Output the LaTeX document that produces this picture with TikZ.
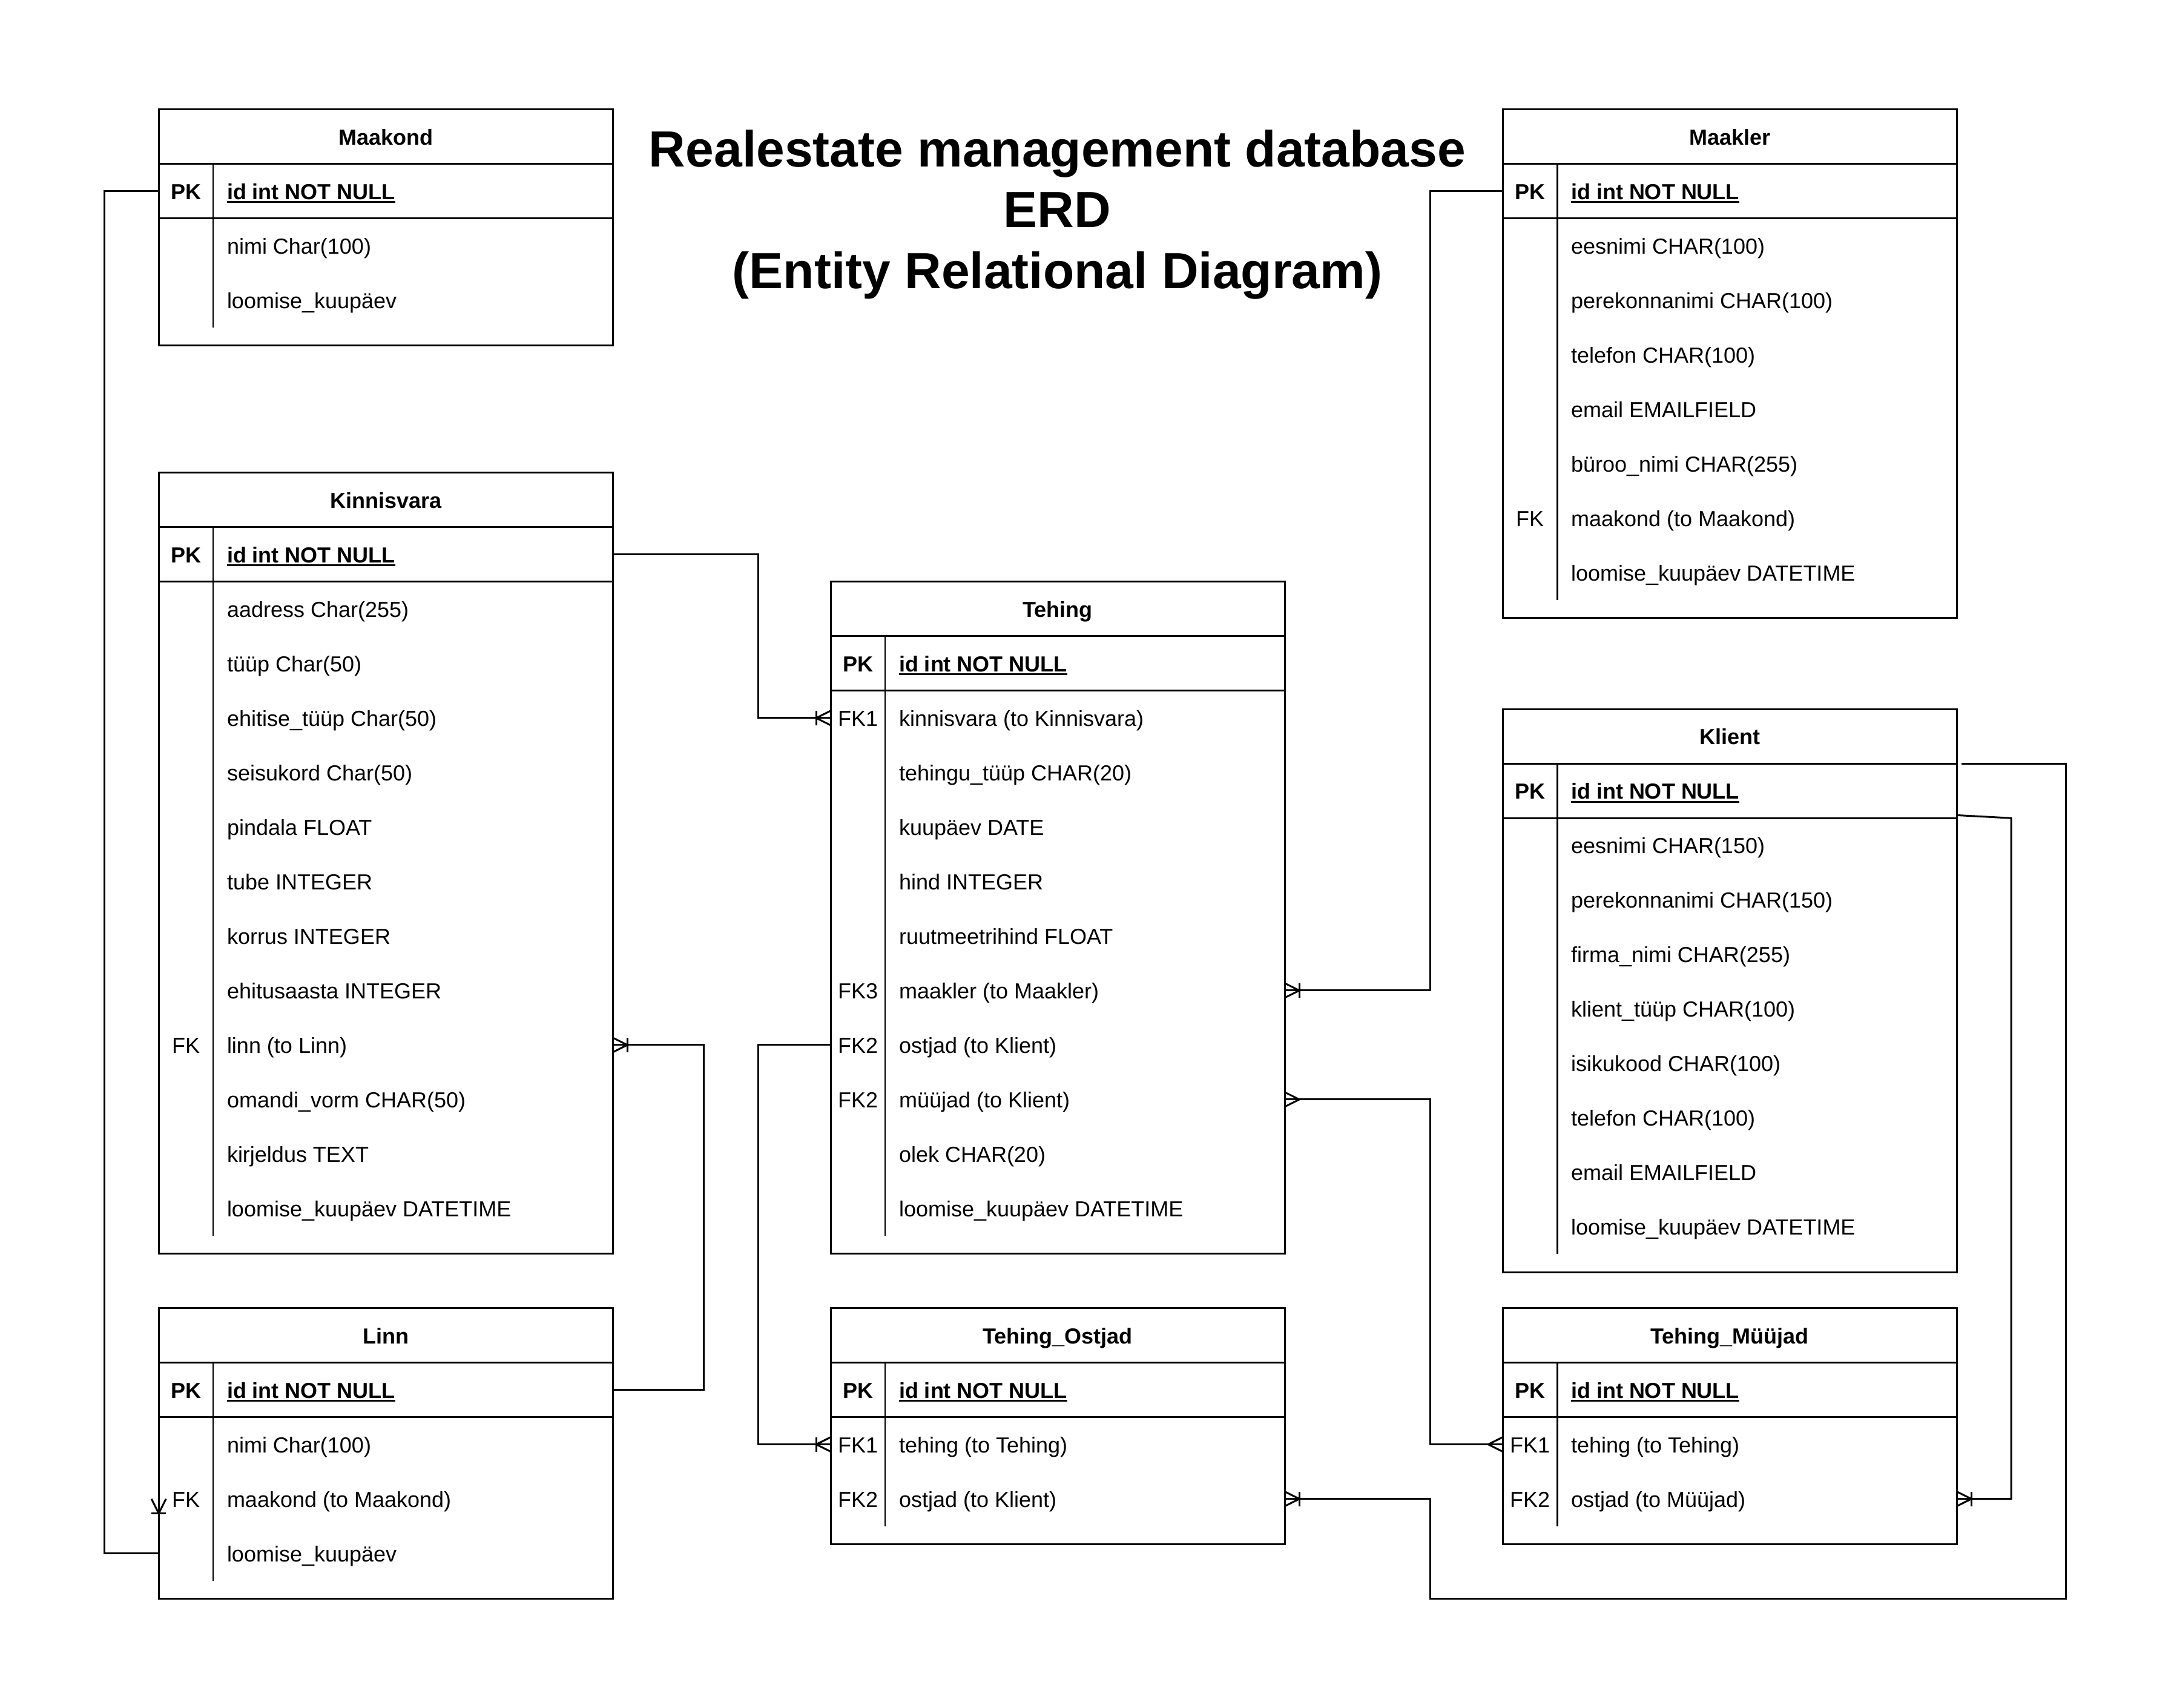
\documentclass[tikz,border=0pt]{standalone}
\usepackage{fontspec}
\setmainfont{Liberation Sans}
\tikzset{
  tbl/.style={draw, rectangle, line width=1pt, minimum width=250pt, inner sep=0pt, outer sep=0pt, anchor=north west},
  rowline/.style={line width=1pt},
  divline/.style={line width=0.85pt},
  hdr/.style={anchor=base, inner sep=0pt, font=\fontsize{12}{14}\selectfont\bfseries},
  keyl/.style={anchor=base, inner sep=0pt, font=\fontsize{12}{14}\selectfont},
  fld/.style={anchor=base west, inner sep=0pt, font=\fontsize{12}{14}\selectfont},
  conn/.style={line width=1pt},
  ttl/.style={anchor=base, inner sep=0pt, font=\fontsize{28}{33.6}\selectfont\bfseries}
}
\newcommand{\pkul}[1]{\setbox0\hbox{#1}\rlap{\rule[-2pt]{\wd0}{1pt}}\box0}
\newcommand{\erdtable}[6]{%
  \pgfmathsetmacro{\tx}{#2}%
  \pgfmathsetmacro{\ty}{#3}%
  \pgfmathsetmacro{\tabh}{70+30*#5}%
  \node[tbl, minimum height=\tabh pt] (#1) at (\tx,\ty) {};
  \draw[rowline] (\tx,\ty+30) -- ++(250,0);
  \draw[rowline] (\tx,\ty+60) -- ++(250,0);
  \draw[divline] (\tx+30,\ty+30) -- (\tx+30,\ty+60+30*#5);
  \node[hdr] (#1-title) at (\tx+125,\ty+19.5) {#4};
  \node[keyl, font=\fontsize{12}{14}\selectfont\bfseries] (#1-k0) at (\tx+15,\ty+49.5) {PK};
  \node[fld] (#1-f0) at (\tx+37.4,\ty+49.5) {\pkul{\bfseries id int NOT NULL}};
  \coordinate (#1-L0) at (\tx,\ty+45);
  \coordinate (#1-R0) at (\tx+250,\ty+45);
  \coordinate (#1-H) at (\tx+250,\ty+30);
  \foreach \kk/\ff [count=\ii] in {#6} {
    \node[keyl] (#1-k\ii) at (\tx+15,\ty+49.5+30*\ii) {\kk};
    \node[fld] (#1-f\ii) at (\tx+37.4,\ty+49.5+30*\ii) {\ff};
    \coordinate (#1-L\ii) at (\tx,\ty+45+30*\ii);
    \coordinate (#1-R\ii) at (\tx+250,\ty+45+30*\ii);
  }
}
\newcommand{\otm}[2]{%
  \begin{scope}[shift={(#1)}, rotate=#2]
    \draw[conn] (0,4) -- (-8,0) -- (0,-4);
    \draw[conn] (-8,4) -- (-8,-4);
  \end{scope}}
\newcommand{\mny}[2]{%
  \begin{scope}[shift={(#1)}, rotate=#2]
    \draw[conn] (0,4) -- (-8,0) -- (0,-4);
  \end{scope}}
\begin{document}
\begin{tikzpicture}[x=1pt, y=-1pt]
\useasboundingbox (0,0) rectangle (1197,940);
\fill[white] (0,0) rectangle (1197,940);

% title
\node[ttl] (title1) at (582.2,91.7) {Realestate management database};
\node[ttl] (title2) at (582.2,125.3) {ERD};
\node[ttl] (title3) at (582.2,158.9) {(Entity Relational Diagram)};

% tables
\erdtable{maak}{87.4}{60.3}{Maakond}{2}{{}/nimi Char(100), {}/loomise\_kuupäev}
\erdtable{kinn}{87.4}{260.3}{Kinnisvara}{12}{{}/aadress Char(255), {}/tüüp Char(50), {}/ehitise\_tüüp Char(50), {}/seisukord Char(50), {}/pindala FLOAT, {}/tube INTEGER, {}/korrus INTEGER, {}/ehitusaasta INTEGER, FK/linn (to Linn), {}/omandi\_vorm CHAR(50), {}/kirjeldus TEXT, {}/loomise\_kuupäev DATETIME}
\erdtable{linn}{87.4}{720.2}{Linn}{3}{{}/nimi Char(100), FK/maakond (to Maakond), {}/loomise\_kuupäev}
\erdtable{teh}{457.4}{320.3}{Tehing}{10}{FK1/kinnisvara (to Kinnisvara), {}/tehingu\_tüüp CHAR(20), {}/kuupäev DATE, {}/hind INTEGER, {}/ruutmeetrihind FLOAT, FK3/maakler (to Maakler), FK2/ostjad (to Klient), FK2/müüjad (to Klient), {}/olek CHAR(20), {}/loomise\_kuupäev DATETIME}
\erdtable{ost}{457.4}{720.2}{Tehing\_Ostjad}{2}{FK1/tehing (to Tehing), FK2/ostjad (to Klient)}
\erdtable{mkl}{827.4}{60.3}{Maakler}{7}{{}/eesnimi CHAR(100), {}/perekonnanimi CHAR(100), {}/telefon CHAR(100), {}/email EMAILFIELD, {}/büroo\_nimi CHAR(255), FK/maakond (to Maakond), {}/loomise\_kuupäev DATETIME}
\erdtable{kli}{827.4}{390.4}{Klient}{8}{{}/eesnimi CHAR(150), {}/perekonnanimi CHAR(150), {}/firma\_nimi CHAR(255), {}/klient\_tüüp CHAR(100), {}/isikukood CHAR(100), {}/telefon CHAR(100), {}/email EMAILFIELD, {}/loomise\_kuupäev DATETIME}
\erdtable{myy}{827.4}{720.2}{Tehing\_Müüjad}{2}{FK1/tehing (to Tehing), FK2/ostjad (to Müüjad)}

% connectors
\draw[conn] (maak-L0) -- ++(-30,0) |- (linn-L3) -- (linn-L2);
\otm{linn-L2}{90}

\draw[conn] (kinn-R0) -- ++(80,0) |- (teh-L1);
\otm{teh-L1}{0}

\draw[conn] (linn-R0) -- ++(50,0) |- (kinn-R9);
\otm{kinn-R9}{180}

\draw[conn] (teh-L7) -- ++(-40,0) |- (ost-L1);
\otm{ost-L1}{0}

\draw[conn] (mkl-L0) -- ++(-40,0) |- (teh-R6);
\otm{teh-R6}{180}

\draw[conn] (teh-R8) -- ++(80,0) |- (myy-L1);
\mny{teh-R8}{180}
\mny{myy-L1}{0}

\coordinate (k7a) at (1137.4,880.2);
\coordinate (k7b) at (787.4,880.2);
\draw[conn] ([xshift=2.6pt]kli-H) -| (k7a) -- (k7b) |- (ost-R2);
\otm{ost-R2}{180}

\coordinate (k8s) at (1077.4,448.8);
\coordinate (k8a) at (1107.4,450.4);
\draw[conn] (k8s) -- (k8a) |- (myy-R2);
\otm{myy-R2}{180}
\end{tikzpicture}
\end{document}
